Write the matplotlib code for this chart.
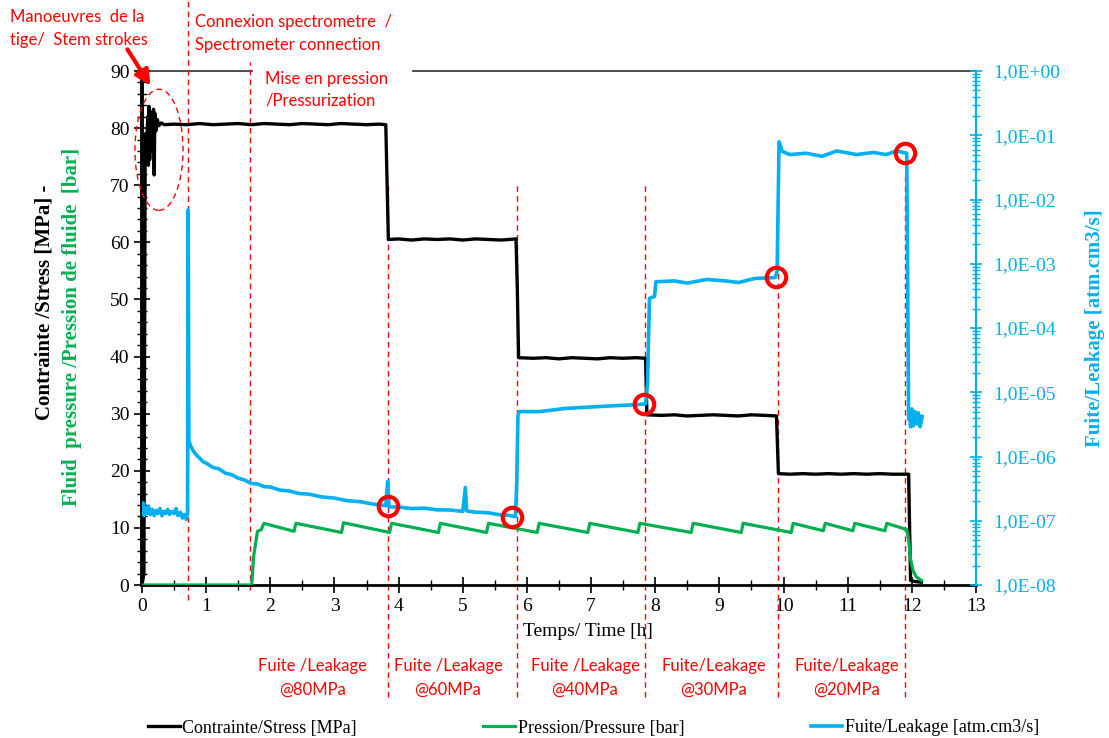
import numpy as np
import matplotlib.pyplot as plt
from matplotlib.patches import Ellipse
from matplotlib.ticker import MultipleLocator, LogLocator, FuncFormatter, NullFormatter

# contrainte / stress [MPa]
t_stress = [0.0, 0.03, 0.05, 0.07, 0.09, 0.10, 0.11, 0.12, 0.13, 0.14, 0.155, 0.165, 0.18, 0.19,
            0.20, 0.215, 0.24, 0.26, 0.30, 0.35, 0.5, 0.7, 0.9, 1.1, 1.3, 1.5, 1.7, 1.9, 2.1,
            2.3, 2.5, 2.7, 2.9, 3.1, 3.3, 3.5, 3.7, 3.80, 3.84, 4.0, 4.2, 4.4, 4.6, 4.8, 5.0,
            5.2, 5.4, 5.6, 5.83, 5.85, 5.87, 6.1, 6.3, 6.5, 6.7, 6.9, 7.1, 7.3, 7.5, 7.7, 7.85,
            7.87, 8.1, 8.3, 8.5, 8.7, 8.9, 9.1, 9.3, 9.5, 9.7, 9.89, 9.92, 10.1, 10.3, 10.5,
            10.7, 10.9, 11.1, 11.3, 11.5, 11.7, 11.95, 11.98, 12.05, 12.15]
stress = [0, 2, 79, 76, 82, 73.5, 83.8, 74.5, 81, 76, 82.8, 78, 83.3, 71.8,
          82.6, 79.5, 81.5, 80.4, 80.9, 80.6, 80.7, 80.6, 80.8, 80.6, 80.7, 80.8, 80.6, 80.8, 80.7,
          80.6, 80.8, 80.7, 80.6, 80.8, 80.7, 80.6, 80.7, 80.6, 60.5, 60.6, 60.4, 60.6, 60.5,
          60.6, 60.4, 60.6, 60.5, 60.4, 60.6, 52, 39.8, 39.7, 39.8, 39.6, 39.8, 39.7, 39.6,
          39.8, 39.7, 39.8, 39.7, 29.8, 29.7, 29.8, 29.6, 29.7, 29.8, 29.7, 29.6, 29.8, 29.7,
          29.6, 19.5, 19.4, 19.5, 19.4, 19.5, 19.4, 19.5, 19.4, 19.5, 19.4, 19.4, 0.8, 0.6, 0.5]

# pression de fluide / fluid pressure [bar]
t_pres = [0.0, 1.71, 1.74, 1.80, 1.86, 1.90,
          2.37, 2.40, 3.11, 3.14, 3.86, 3.89, 4.62, 4.65, 5.37, 5.40, 6.16, 6.19,
          6.95, 6.98, 7.73, 7.76, 8.56, 8.59, 9.34, 9.37, 10.12, 10.15, 10.62, 10.65,
          11.08, 11.11, 11.58, 11.61, 11.92, 11.95, 11.98, 12.02, 12.07, 12.15]
pres = [0, 0, 5.0, 9.4, 9.7, 10.8,
        9.4, 10.8, 9.2, 10.9, 9.2, 10.8, 9.2, 10.8, 9.2, 10.8, 9.2, 10.8,
        9.2, 10.8, 9.2, 10.8, 9.2, 10.8, 9.2, 10.8, 9.2, 10.8, 9.5, 10.8,
        9.5, 10.8, 9.5, 10.8, 9.7, 8.0, 4.5, 2.5, 1.4, 0.8]

# fuite / leakage [atm.cm3/s]
t_leak = [0.00, 0.02, 0.03, 0.05, 0.08, 0.10, 0.13, 0.16, 0.19, 0.22, 0.25, 0.28, 0.31, 0.34,
          0.37, 0.40, 0.43, 0.46, 0.50, 0.53, 0.56, 0.60, 0.63, 0.66, 0.69, 0.71, 0.72, 0.73,
          0.76, 0.80, 0.85, 0.90, 0.95, 1.00, 1.10, 1.20, 1.30, 1.40, 1.50, 1.60, 1.70, 1.80,
          1.90, 2.00, 2.15, 2.30, 2.45, 2.60, 2.80, 3.00, 3.20, 3.40, 3.60, 3.80, 3.83,
          3.85, 4.00, 4.20, 4.40, 4.60, 4.80, 5.00, 5.04, 5.06, 5.20, 5.40, 5.55, 5.70, 5.82,
          5.84, 5.86, 5.88, 6.20, 6.60,
          7.00, 7.40, 7.70, 7.85, 7.88, 7.91, 7.99, 8.01, 8.30, 8.50, 8.80, 9.10, 9.30, 9.55,
          9.87, 9.90, 9.93, 9.98, 10.10, 10.35, 10.60, 10.83, 11.14, 11.40, 11.60, 11.76, 11.92,
          11.95, 11.96, 11.98, 12.00, 12.02, 12.05, 12.08, 12.10, 12.13, 12.16]
leak = [1.4e-7, 1.9e-7, 1.2e-7, 1.6e-7, 1.3e-7, 1.7e-7, 1.25e-7, 1.5e-7, 1.2e-7, 1.45e-7, 1.3e-7,
        1.55e-7, 1.2e-7, 1.4e-7, 1.3e-7, 1.5e-7, 1.25e-7, 1.4e-7, 1.3e-7, 1.55e-7, 1.2e-7,
        1.35e-7, 1.1e-7, 1.25e-7, 1.05e-7, 1.3e-7, 6.9e-3, 1.77e-6,
        1.45e-6, 1.22e-6, 1.05e-6, 9.4e-7, 8.3e-7, 7.9e-7, 6.8e-7, 6.4e-7, 5.5e-7, 5.2e-7,
        4.6e-7, 4.3e-7, 3.8e-7, 3.75e-7,
        3.4e-7, 3.35e-7, 3.0e-7, 2.9e-7, 2.65e-7, 2.6e-7, 2.35e-7, 2.25e-7, 2.05e-7, 1.98e-7,
        1.82e-7, 1.72e-7, 4.1e-7,
        1.65e-7, 1.63e-7, 1.55e-7, 1.57e-7, 1.48e-7, 1.47e-7, 1.40e-7, 3.3e-7, 1.42e-7, 1.36e-7,
        1.33e-7, 1.25e-7, 1.22e-7, 1.16e-7,
        3.6e-7, 4.3e-6, 5.0e-6, 5.0e-6, 5.6e-6,
        5.9e-6, 6.2e-6, 6.4e-6, 6.6e-6, 1.37e-5, 2.9e-4, 3.1e-4, 5.25e-4, 5.4e-4, 5.0e-4,
        5.7e-4, 5.4e-4, 5.1e-4, 5.9e-4,
        6.1e-4, 7.7e-4, 7.9e-2, 5.6e-2, 5.0e-2, 5.25e-2, 4.7e-2, 5.7e-2, 5.0e-2, 5.4e-2,
        5.0e-2, 5.7e-2, 5.25e-2,
        3.8e-6, 5.2e-6, 2.9e-6, 5.5e-6, 3.0e-6, 5.0e-6, 3.2e-6, 4.8e-6, 2.9e-6, 4.2e-6]

# points entoures
t_circ = [3.835, 5.77, 7.83, 9.88, 11.89]
leak_circ = [1.69e-7, 1.14e-7, 6.6e-6, 6.2e-4, 5.25e-2]

t_events = [0.72, 1.68, 3.84, 5.85, 7.84, 9.92, 11.89]
stage_top = ['Fuite /Leakage', 'Fuite /Leakage', 'Fuite /Leakage', 'Fuite/Leakage', 'Fuite/Leakage']
stage_bot = ['@80MPa', '@60MPa', '@40MPa', '@30MPa', '@20MPa']

black = '#000000'
green = '#00B050'
cyan = '#00B0F0'
red = '#FF0000'
serif = 'Liberation Serif'
narrow = ['Lato', 'DejaVu Sans']

W, H = 1109, 738
fig = plt.figure(figsize=(W / 100, H / 100), dpi=100)
ax = fig.add_axes([142 / W, 1 - 585 / H, 834 / W, 514 / H])
ax2 = ax.twinx()

l1, = ax.plot(t_stress, stress, color=black, lw=2.4, zorder=3)
l2, = ax.plot(t_pres, pres, color=green, lw=2.3, zorder=3)
l3, = ax2.plot(t_leak, leak, color=cyan, lw=2.6, zorder=3)
ax2.plot(t_circ, leak_circ, 'o', ms=14, mfc='none', mec=red, mew=3, zorder=5)

ax.set_xlim(0, 13)
ax.set_ylim(0, 90)
ax2.set_yscale('log')
ax2.set_ylim(1e-8, 1)

ax.xaxis.set_major_locator(MultipleLocator(1))
ax.xaxis.set_minor_locator(MultipleLocator(0.5))
ax.yaxis.set_major_locator(MultipleLocator(10))
ax.yaxis.set_minor_locator(MultipleLocator(2))
ax.tick_params(axis='both', which='major', direction='inout', length=11, width=1.2,
               labelsize=14, color=black)
ax.tick_params(axis='both', which='minor', direction='inout', length=7, width=1.0)
ax.tick_params(axis='x', pad=4)
for lab in ax.get_xticklabels() + ax.get_yticklabels():
    lab.set_fontfamily(serif)

ax2.yaxis.set_major_locator(LogLocator(base=10, numticks=20))
ax2.yaxis.set_minor_locator(LogLocator(base=10, subs=np.arange(2, 10), numticks=20))
ax2.yaxis.set_minor_formatter(NullFormatter())
ax2.yaxis.set_major_formatter(FuncFormatter(lambda v, p: '1,0E{:+03d}'.format(int(round(np.log10(v))))))
ax2.tick_params(axis='y', which='major', direction='inout', length=9, width=1.2,
                color=cyan, labelcolor=cyan, labelsize=14, pad=8)
ax2.tick_params(axis='y', which='minor', direction='inout', length=6, width=1.0, color=cyan)
for lab in ax2.get_yticklabels():
    lab.set_fontfamily(serif)

for a in (ax, ax2):
    a.spines['top'].set_visible(False)
ax.spines['right'].set_visible(False)
ax2.spines['left'].set_visible(False)
ax2.spines['bottom'].set_visible(False)
ax.spines['left'].set_linewidth(2.8)
ax.spines['bottom'].set_linewidth(2.0)
ax2.spines['right'].set_color(cyan)
ax2.spines['right'].set_linewidth(1.6)

# bord superieur interrompu par la note "Mise en pression"
ax.plot([0, 110 / 834], [1, 1], color='#303030', lw=1.2, transform=ax.transAxes, clip_on=False)
ax.plot([271 / 834, 1], [1, 1], color='#303030', lw=1.2, transform=ax.transAxes, clip_on=False)

# reperes des evenements
ext = [(-0.03, 585 / 514), (-0.01, 523 / 514), (-0.218, 0.782), (-0.218, 0.782),
       (-0.218, 0.782), (-0.218, 0.809), (-0.218, 0.80)]
for t, (y0, y1) in zip(t_events, ext):
    ax.axvline(t, ymin=y0, ymax=y1, color=red, lw=1.0, ls=(0, (4, 3)), clip_on=False, zorder=2)

ax.add_patch(Ellipse((0.265, 76.2), 0.75, 21.2, fill=False, ec=red, lw=1.0,
                     ls=(0, (4, 3)), clip_on=False, zorder=4))
ax.annotate('', xy=(0.156, 87.0), xytext=(-0.25, 94.2),
            arrowprops=dict(arrowstyle='-|>,head_length=0.9,head_width=0.45', color=red, lw=3),
            annotation_clip=False)


def px(x, y):
    return x / W, 1 - y / H


fs = 12
fig.text(*px(10, 17), 'Manoeuvres  de la', color=red, fontsize=fs, family=narrow, va='center')
fig.text(*px(10, 40), 'tige/  Stem strokes', color=red, fontsize=fs, family=narrow, va='center')
fig.text(*px(195, 22), 'Connexion spectrometre  /', color=red, fontsize=fs, family=narrow, va='center')
fig.text(*px(195, 45), 'Spectrometer connection', color=red, fontsize=fs, family=narrow, va='center')
fig.text(*px(265, 79), 'Mise en pression', color=red, fontsize=fs, family=narrow, va='center')
fig.text(*px(265, 101), '/Pressurization', color=red, fontsize=fs, family=narrow, va='center')

for xc, top, bot in zip([313, 448, 585, 714, 847], stage_top, stage_bot):
    fig.text(*px(xc, 666), top, color=red, fontsize=fs, family=narrow, ha='center', va='center')
    fig.text(*px(xc, 690), bot, color=red, fontsize=fs, family=narrow, ha='center', va='center')

fig.text(*px(588, 631), 'Temps/ Time [h]', fontsize=14, family=serif, ha='center', va='center')
fig.text(*px(45, 302), 'Contrainte /Stress [MPa] -', fontsize=15, family=serif, weight='bold',
         rotation=90, ha='center', va='center')
fig.text(*px(72, 327), 'Fluid  pressure /Pression de fluide  [bar]', fontsize=15, family=serif,
         weight='bold', color=green, rotation=90, ha='center', va='center')
fig.text(*px(1095, 328), 'Fuite/Leakage [atm.cm3/s]', fontsize=15, family=serif, weight='bold',
         color=cyan, rotation=90, ha='center', va='center')

fig.legend([l1, l2, l3], ['Contrainte/Stress [MPa]', 'Pression/Pressure [bar]',
                          'Fuite/Leakage [atm.cm3/s]'],
           loc='center left', bbox_to_anchor=px(148, 728), ncol=3, frameon=False,
           prop={'family': serif, 'size': 13}, handlelength=1.75, handletextpad=0.15,
           columnspacing=7.0, borderpad=0, borderaxespad=0)

fig.savefig('out.png', dpi=100)
